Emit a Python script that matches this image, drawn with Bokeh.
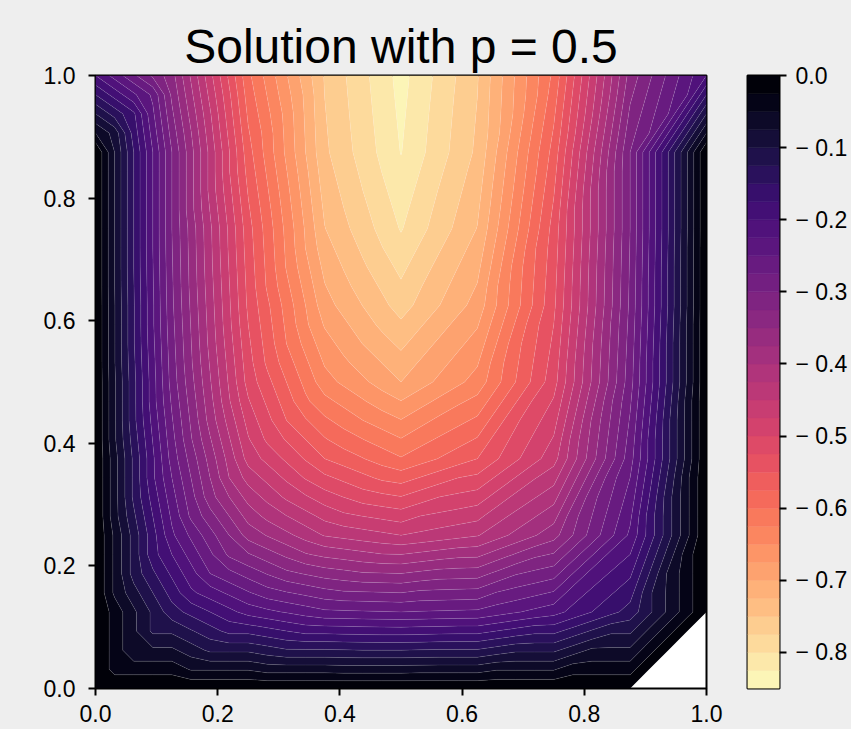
from bokeh.plotting import figure
from bokeh.layouts import row
from bokeh.models import FixedTicker, Range1d
from bokeh.palettes import Magma256
from bokeh.embed import file_html
from bokeh.resources import INLINE
import numpy as np

TITLE = "Solution with p = 0.5"
BG = "#eeeeee"
nan = float("nan")

x_nodes = [0.0, 0.125, 0.25, 0.375, 0.5, 0.625, 0.75, 0.875, 1.0]
y_nodes = [0.0, 0.125, 0.25, 0.375, 0.5, 0.625, 0.75, 0.875, 1.0]

row_y000 = [0.0, 0.0, 0.0, 0.0, 0.0, 0.0, 0.0, 0.0, nan]
row_y125 = [0.0, -0.14, -0.21, -0.245, -0.25, -0.245, -0.21, -0.14, 0.0]
row_y250 = [0.0, -0.22, -0.36, -0.427, -0.45, -0.427, -0.36, -0.22, 0.0]
row_y375 = [0.0, -0.26, -0.46, -0.55, -0.598, -0.55, -0.46, -0.26, 0.0]
row_y500 = [0.0, -0.285, -0.51, -0.64, -0.70, -0.64, -0.51, -0.285, 0.0]
row_y625 = [0.0, -0.295, -0.53, -0.69, -0.761, -0.69, -0.53, -0.295, 0.0]
row_y750 = [0.0, -0.30, -0.54, -0.724, -0.802, -0.724, -0.54, -0.30, 0.0]
row_y875 = [0.0, -0.30, -0.565, -0.745, -0.826, -0.745, -0.565, -0.30, 0.0]
row_y999 = [-0.2, -0.34, -0.594, -0.752, -0.834, -0.752, -0.594, -0.34, -0.2]

axis_ticks = [0.0, 0.2, 0.4, 0.6, 0.8, 1.0]
axis_labels = ["0.0", "0.2", "0.4", "0.6", "0.8", "1.0"]
bar_ticks = [0.0, -0.1, -0.2, -0.3, -0.4, -0.5, -0.6, -0.7, -0.8]
bar_labels = ["0.0", "\u2212 0.1", "\u2212 0.2", "\u2212 0.3", "\u2212 0.4",
              "\u2212 0.5", "\u2212 0.6", "\u2212 0.7", "\u2212 0.8"]
level_bottom = -0.85
level_step = 0.025
level_count = 34

z = np.array([row_y000, row_y125, row_y250, row_y375, row_y500,
              row_y625, row_y750, row_y875, row_y999])


def on_triangles(xn, yn, zn, n=4):
    """The picture is a linear field on triangles whose diagonals run from a
    cell's lower-left to its upper-right corner. Bokeh contours rectilinear
    grids only, so each cell is drawn on an n x n sub-grid of its triangles."""
    nx, ny = len(xn), len(yn)
    xf = np.array([xn[i] + (xn[i + 1] - xn[i]) * k / n for i in range(nx - 1) for k in range(n)] + [xn[-1]])
    yf = np.array([yn[j] + (yn[j + 1] - yn[j]) * k / n for j in range(ny - 1) for k in range(n)] + [yn[-1]])
    zf = np.full((len(yf), len(xf)), np.nan)
    for j in range(ny - 1):
        for i in range(nx - 1):
            ll, lr, ul, ur = zn[j, i], zn[j, i + 1], zn[j + 1, i], zn[j + 1, i + 1]
            for b in range(n + 1):
                for a in range(n + 1):
                    s, t = a / n, b / n
                    if s >= t:
                        v = ll + s * (lr - ll) + t * (ur - lr) if not np.isnan(lr) else np.nan
                        if a == b:
                            v = ll + s * (ur - ll)
                    else:
                        v = ll + t * (ul - ll) + s * (ur - ul)
                    zf[j * n + b, i * n + a] = v
    return xf, yf, zf


xf, yf, zf = on_triangles(x_nodes, y_nodes, z)
levels = [level_bottom + i * level_step for i in range(level_count + 1)]
levels[-1] = 1e-6


def band_colour(lo, hi):
    t = (0.5 * (lo + min(hi, 0.0)) - level_bottom) / (0 - level_bottom)
    return Magma256[int(round((1 - t) * 255))]


palette = [band_colour(levels[i], levels[i + 1]) for i in range(level_count)]


def style_axis(ax):
    ax.major_label_text_font = "Liberation Sans"
    ax.major_label_text_font_size = "23px"
    ax.major_label_text_color = "#000000"
    ax.axis_line_color = None
    ax.major_tick_line_color = "#000000"
    ax.major_tick_line_width = 2
    ax.major_tick_out = 7
    ax.major_tick_in = 0
    ax.minor_tick_line_color = None


p = figure(output_backend="svg", toolbar_location=None,
           frame_width=611, frame_height=613,
           width=726, height=729,
           min_border_left=95, min_border_right=20,
           min_border_top=75, min_border_bottom=41,
           x_range=Range1d(0, 1), y_range=Range1d(0, 1),
           background_fill_color="#ffffff", border_fill_color=BG,
           outline_line_color="#000000", outline_line_width=2,
           title=TITLE)
p.grid.visible = False
p.title.align = "center"
p.title.text_font = "Liberation Sans"
p.title.text_font_size = "48px"
p.title.text_font_style = "normal"
p.title.text_color = "#000000"
p.title.standoff = 6

p.contour(xf, yf, zf, levels, fill_color=palette,
          line_color="#ffffff", line_alpha=0.22, line_width=0.5)

for ax in (p.xaxis[0], p.yaxis[0]):
    style_axis(ax)
    ax.ticker = FixedTicker(ticks=axis_ticks)
    ax.major_label_overrides = dict(zip(axis_ticks, axis_labels))
p.xaxis[0].major_label_standoff = 9
p.yaxis[0].major_label_standoff = 13

cb = figure(output_backend="svg", toolbar_location=None,
            frame_width=32, frame_height=613,
            width=125, height=729,
            min_border_left=21, min_border_right=72,
            min_border_top=75, min_border_bottom=41,
            x_range=Range1d(0, 1), y_range=Range1d(level_bottom, 0),
            background_fill_color=BG, border_fill_color=BG,
            outline_line_color="#000000", outline_line_width=2,
            x_axis_location=None, y_axis_location="right")
cb.grid.visible = False
cb.quad(left=0, right=1,
        bottom=[level_bottom + i * level_step for i in range(level_count)],
        top=[level_bottom + (i + 1) * level_step for i in range(level_count)],
        fill_color=palette, line_color=palette, line_width=0.5)
ax = cb.yaxis[0]
style_axis(ax)
ax.ticker = FixedTicker(ticks=bar_ticks)
ax.major_label_overrides = dict(zip(bar_ticks, bar_labels))
ax.major_label_standoff = 9

layout = row(p, cb, spacing=0)
html = file_html(layout, INLINE)
html = html.replace("<head>", "<head><style>html,body{background:#eeeeee;}</style>", 1)
open("out.html", "w").write(html)
